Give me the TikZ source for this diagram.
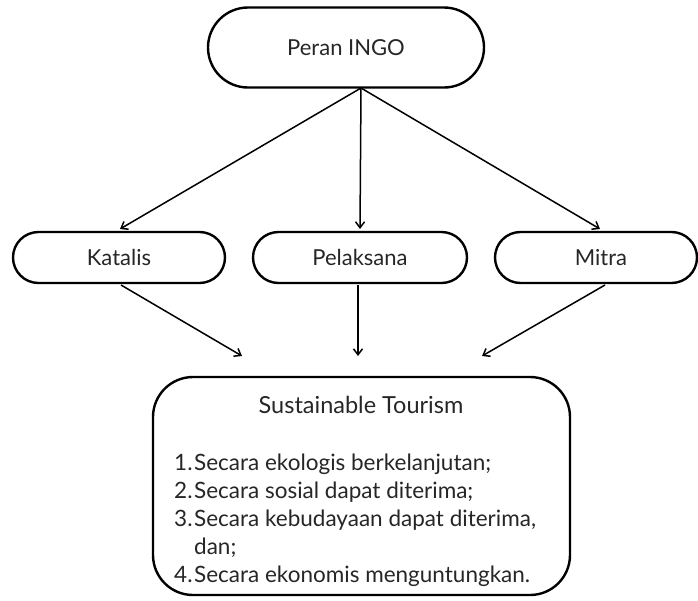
\documentclass[tikz,border=0pt]{standalone}
\usepackage{fontspec}
\setmainfont{Lato}
\usetikzlibrary{arrows.meta,calc}
\begin{document}
\begin{tikzpicture}[x=1pt,y=-1pt,
  pill/.style={draw=black,line width=2.4pt,rounded corners=25.5pt,minimum height=51pt,inner sep=0pt,font=\fontsize{22}{26}\selectfont,text=black!85},
  conn/.style={line width=1.5pt,-{Straight Barb[length=6pt,width=9pt,line width=1.5pt]}},
  txt/.style={font=\fontsize{23.5}{28}\selectfont,text=black!85,inner sep=0pt}]
\useasboundingbox (0,0) rectangle (698,600);
\node[pill,minimum width=276pt,minimum height=80pt,rounded corners=40pt] (ingo) at (346,47.5) {Peran INGO};
\node[pill,minimum width=212pt] (kat) at (119,257.5) {Katalis};
\node[pill,minimum width=214pt] (pel) at (360,257.5) {Pelaksana};
\node[pill,minimum width=202pt] (mit) at (596,257.5) {\hspace*{10pt}Mitra};
\node[draw=black,line width=2.4pt,rounded corners=40pt,minimum width=417pt,minimum height=218pt,inner sep=0pt] (sust) at (361.5,486) {};
\node[txt] (title) at (361,405) {Sustainable Tourism};
\node[txt,anchor=north west,align=left,font=\fontsize{22.5}{28}\selectfont] (list) at (174,454) {%
\makebox[20pt][l]{1.}Secara ekologis berkelanjutan;\\
\makebox[20pt][l]{2.}Secara sosial dapat diterima;\\
\makebox[20pt][l]{3.}Secara kebudayaan dapat diterima,\\
\makebox[20pt][l]{}dan;\\
\makebox[20pt][l]{4.}Secara ekonomis menguntungkan.};
\coordinate (o) at (361,88);
\coordinate (t1) at (120,229);
\coordinate (t2) at (360,229);
\coordinate (t3) at (600,229);
\coordinate (s1) at (121,285);
\coordinate (s2) at (358,285);
\coordinate (s3) at (605,285);
\coordinate (e1) at (242,356);
\coordinate (e2) at (358,356);
\coordinate (e3) at (482,356);
\draw[conn] (o) -- (t1);
\draw[conn] (o) -- (t2);
\draw[conn] (o) -- (t3);
\draw[conn] (s1) -- (e1);
\draw[conn] (s2) -- (e2);
\draw[conn] (s3) -- (e3);
\end{tikzpicture}
\end{document}
